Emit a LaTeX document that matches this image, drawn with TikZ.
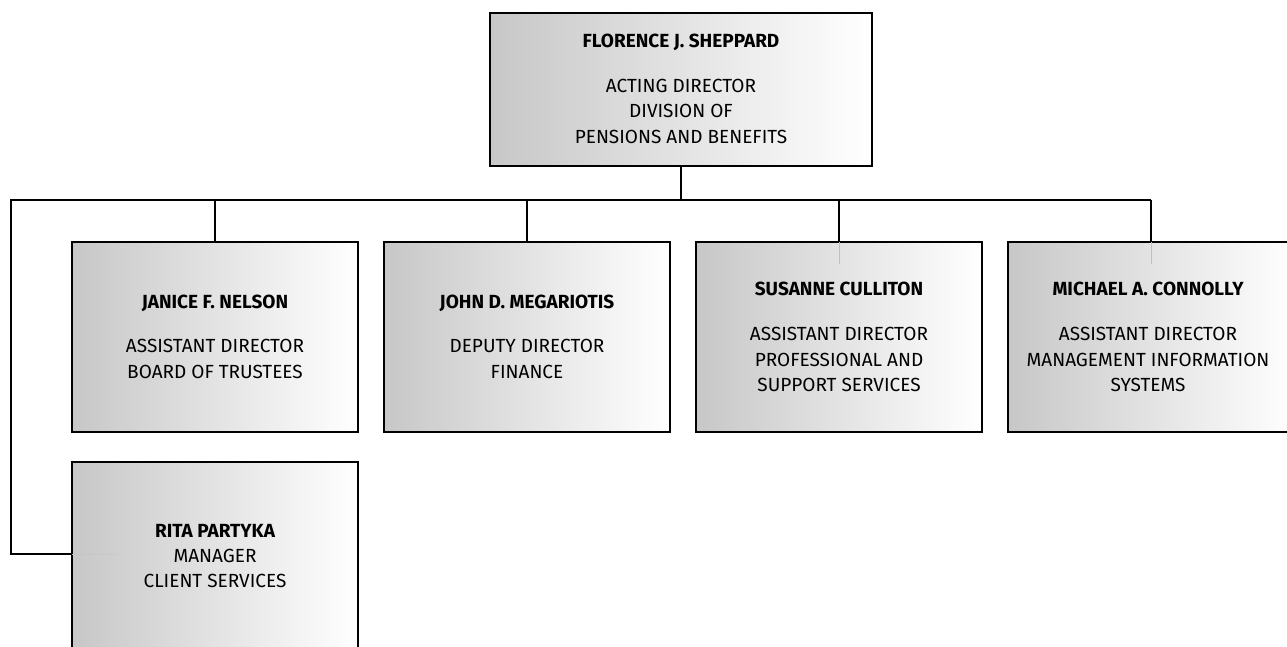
\documentclass[tikz,border=0pt]{standalone}
\usepackage{fontspec}
\setmainfont{Fira Sans}
\begin{document}
\begin{tikzpicture}[x=1pt,y=-1pt,
  box/.style={draw=black, line width=2.8pt, left color=black!22, right color=white,
    minimum width=286pt, minimum height=190pt, inner sep=0pt, outer sep=0pt},
  nm/.style={font=\bfseries\fontsize{19}{23}\selectfont, anchor=base, inner sep=0pt},
  tx/.style={font=\fontsize{19}{23}\selectfont, anchor=base, inner sep=0pt},
  conn/.style={draw=black, line width=2.7pt},
  faint/.style={draw=black!25, line width=0.8pt}]
\clip (0,0) rectangle (1287,647);
\fill[white] (0,0) rectangle (1287,647);
% boxes
\node[box, minimum width=382pt, minimum height=153pt] (top) at (681,89.5) {};
\node[box] (janice) at (215,337) {};
\node[box] (john) at (527,337) {};
\node[box] (susanne) at (839,337) {};
\node[box] (michael) at (1151,337) {};
\node[box] (rita) at (215,557) {};
% connectors
\coordinate (busL) at (11,200);
\coordinate (busR) at (1151,200);
\draw[conn] (top.south) -- (top.south |- busL);
\draw[conn, line join=miter] (busR) -- (busL) |- ([yshift=3pt]rita.west);
\draw[conn] (janice.north) -- (janice.north |- busL);
\draw[conn] (john.north) -- (john.north |- busL);
\draw[conn] (susanne.north) -- (susanne.north |- busL);
\draw[conn] (michael.north) -- (michael.north |- busL);
% faint marks
\draw[faint] (susanne.north) -- ++(0,22);
\draw[faint] (michael.north) -- ++(0,22);
\draw[faint, dotted] ([yshift=3pt]rita.west) -- ++(45,0);
% texts
\node[nm] (topname) at (681,48) {FLORENCE J. SHEPPARD};
\node[tx] (topl1) at (681,93) {ACTING DIRECTOR};
\node[tx] (topl2) at (681,118) {DIVISION OF};
\node[tx] (topl3) at (681,144) {PENSIONS AND BENEFITS};
\node[nm] (janname) at (215,308) {JANICE F. NELSON};
\node[tx] (janl1) at (215,352) {ASSISTANT DIRECTOR};
\node[tx] (janl2) at (215,378) {BOARD OF TRUSTEES};
\node[nm] (johnname) at (527,308) {JOHN D. MEGARIOTIS};
\node[tx] (johnl1) at (527,352) {DEPUTY DIRECTOR};
\node[tx] (johnl2) at (527,378) {FINANCE};
\node[nm] (susname) at (839,295) {SUSANNE CULLITON};
\node[tx] (susl1) at (839,340) {ASSISTANT DIRECTOR};
\node[tx] (susl2) at (839,366) {PROFESSIONAL AND};
\node[tx] (susl3) at (839,391) {SUPPORT SERVICES};
\node[nm] (micname) at (1148,295) {MICHAEL A. CONNOLLY};
\node[tx] (micl1) at (1148,340) {ASSISTANT DIRECTOR};
\node[tx] (micl2) at (1148,366) {MANAGEMENT INFORMATION};
\node[tx] (micl3) at (1148,391) {SYSTEMS};
\node[nm] (ritaname) at (215,537) {RITA PARTYKA};
\node[tx] (rital1) at (215,562) {MANAGER};
\node[tx] (rital2) at (215,587) {CLIENT SERVICES};
\end{tikzpicture}
\end{document}
